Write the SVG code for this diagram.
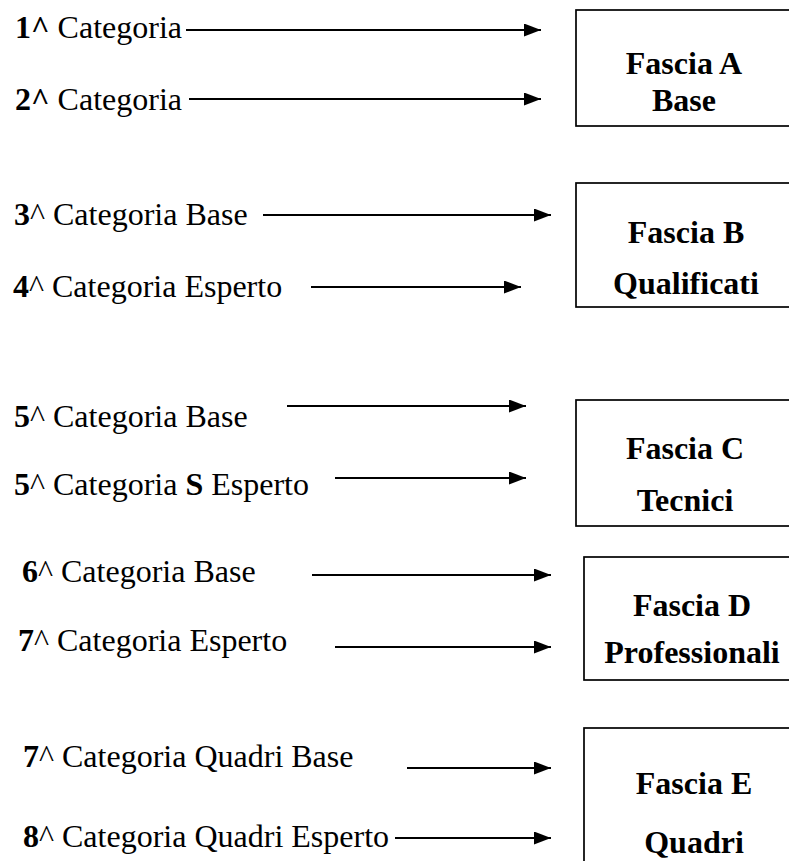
<svg xmlns="http://www.w3.org/2000/svg" width="789" height="861" viewBox="0 0 789 861">
<style>
.lbl{font-family:"Liberation Serif","Times New Roman",serif;font-size:32px;fill:#000}
.b{font-weight:bold}
.box{fill:#fff;stroke:#000;stroke-width:1.7}
.ttl{font-family:"Liberation Serif","Times New Roman",serif;font-size:32px;font-weight:bold;fill:#000;text-anchor:middle}
.arr{stroke:#000;stroke-width:1.8;fill:none;marker-end:url(#ah)}
</style>
<defs>
<marker id="ah" markerUnits="userSpaceOnUse" markerWidth="17" markerHeight="13" refX="17" refY="6.5" orient="auto">
<path d="M0,0 L17,6.5 L0,13 Z" fill="#000"/>
</marker>
</defs>
<rect width="789" height="861" fill="#fff"/>
<g id="fasciaA"><rect class="box" x="576" y="10" width="240" height="116"/><text class="ttl" x="684" y="74">Fascia A</text><text class="ttl" x="684" y="111">Base</text></g>
<g id="fasciaB"><rect class="box" x="576" y="183" width="240" height="124"/><text class="ttl" x="686" y="243">Fascia B</text><text class="ttl" x="686" y="294">Qualificati</text></g>
<g id="fasciaC"><rect class="box" x="576" y="400" width="240" height="126"/><text class="ttl" x="685" y="459">Fascia C</text><text class="ttl" x="685" y="511">Tecnici</text></g>
<g id="fasciaD"><rect class="box" x="584" y="557" width="240" height="123"/><text class="ttl" x="692" y="616">Fascia D</text><text class="ttl" x="692" y="663">Professionali</text></g>
<g id="fasciaE"><rect class="box" x="584" y="728" width="240" height="160"/><text class="ttl" x="694" y="794">Fascia E</text><text class="ttl" x="694" y="853">Quadri</text></g>
<g id="cat1"><text class="lbl" x="15" y="38"><tspan class="b">1^</tspan> Categoria</text></g>
<g id="cat2"><text class="lbl" x="15" y="110"><tspan class="b">2^</tspan> Categoria</text></g>
<g id="cat3"><text class="lbl" x="14" y="225"><tspan class="b">3</tspan>^ Categoria Base</text></g>
<g id="cat4"><text class="lbl" x="13" y="297"><tspan class="b">4</tspan>^ Categoria Esperto</text></g>
<g id="cat5"><text class="lbl" x="14" y="427"><tspan class="b">5</tspan>^ Categoria Base</text></g>
<g id="cat5s"><text class="lbl" x="14" y="495"><tspan class="b">5</tspan>^ Categoria <tspan class="b">S</tspan> Esperto</text></g>
<g id="cat6"><text class="lbl" x="22" y="582"><tspan class="b">6</tspan>^ Categoria Base</text></g>
<g id="cat7"><text class="lbl" x="18" y="651"><tspan class="b">7</tspan>^ Categoria Esperto</text></g>
<g id="cat7q"><text class="lbl" x="23" y="767"><tspan class="b">7</tspan>^ Categoria Quadri Base</text></g>
<g id="cat8q"><text class="lbl" x="23" y="847"><tspan class="b">8</tspan>^ Categoria Quadri Esperto</text></g>
<g id="connectors">
<line class="arr" x1="186" y1="30" x2="541" y2="30"/>
<line class="arr" x1="189" y1="99" x2="541" y2="99"/>
<line class="arr" x1="263" y1="215" x2="551" y2="215"/>
<line class="arr" x1="311" y1="287" x2="521" y2="287"/>
<line class="arr" x1="287" y1="406" x2="526" y2="406"/>
<line class="arr" x1="335" y1="478" x2="526" y2="478"/>
<line class="arr" x1="312" y1="575" x2="551" y2="575"/>
<line class="arr" x1="335" y1="647" x2="551" y2="647"/>
<line class="arr" x1="407" y1="768" x2="551" y2="768"/>
<line class="arr" x1="395" y1="838" x2="551" y2="838"/>
</g>
</svg>
